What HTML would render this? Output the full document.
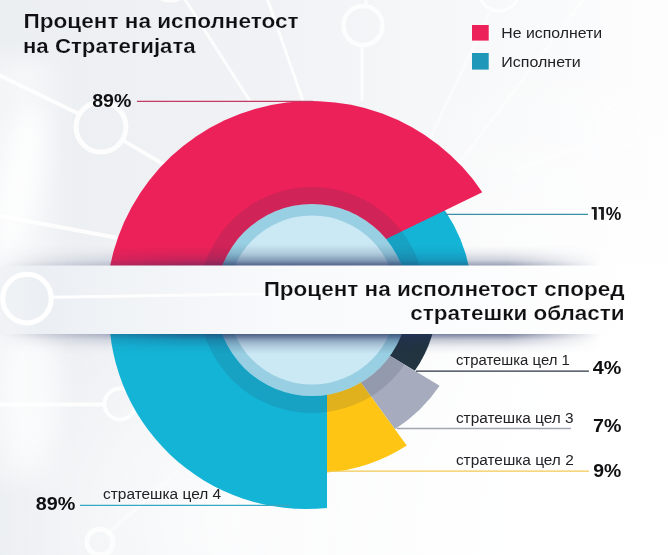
<!DOCTYPE html>
<html><head><meta charset="utf-8">
<style>
html,body{margin:0;padding:0;width:668px;height:555px;overflow:hidden;background:#f4f6f8;}
svg{display:block;}
text{font-family:"Liberation Sans",sans-serif;}
</style></head><body>
<svg width="668" height="555" viewBox="0 0 668 555">
<defs>
<linearGradient id="bgH" x1="0" y1="0" x2="1" y2="0">
<stop offset="0" stop-color="#eceff2"/>
<stop offset="0.4" stop-color="#f0f2f5"/>
<stop offset="0.75" stop-color="#f8f9fa"/>
<stop offset="1" stop-color="#fdfdfe"/>
</linearGradient>
<radialGradient id="bgR" cx="668" cy="555" r="520" gradientUnits="userSpaceOnUse">
<stop offset="0" stop-color="#ffffff" stop-opacity="1"/>
<stop offset="0.45" stop-color="#ffffff" stop-opacity="0.9"/>
<stop offset="1" stop-color="#ffffff" stop-opacity="0"/>
</radialGradient>
<radialGradient id="bgR2" cx="230" cy="520" r="240" gradientUnits="userSpaceOnUse">
<stop offset="0" stop-color="#ffffff" stop-opacity="0.75"/>
<stop offset="0.5" stop-color="#ffffff" stop-opacity="0.45"/>
<stop offset="1" stop-color="#ffffff" stop-opacity="0"/>
</radialGradient>
<linearGradient id="glowL" x1="0" y1="0" x2="1" y2="0">
<stop offset="0" stop-color="#ffffff" stop-opacity="0.2"/>
<stop offset="0.5" stop-color="#ffffff" stop-opacity="0.55"/>
<stop offset="1" stop-color="#ffffff" stop-opacity="0"/>
</linearGradient>
<filter id="blur8" x="-50%" y="-50%" width="200%" height="200%"><feGaussianBlur stdDeviation="10"/></filter>
<filter id="soft" x="-10%" y="-10%" width="120%" height="120%"><feGaussianBlur stdDeviation="0.5"/></filter>
<linearGradient id="bgV" x1="0" y1="0" x2="0" y2="1">
<stop offset="0" stop-color="#ffffff" stop-opacity="0"/>
<stop offset="0.6" stop-color="#ffffff" stop-opacity="0"/>
<stop offset="1" stop-color="#ffffff" stop-opacity="0.9"/>
</linearGradient>
<linearGradient id="shTop" x1="0" y1="0" x2="0" y2="1">
<stop offset="0" stop-color="#223060" stop-opacity="0"/>
<stop offset="0.35" stop-color="#223060" stop-opacity="0.07"/>
<stop offset="0.7" stop-color="#223060" stop-opacity="0.2"/>
<stop offset="1" stop-color="#223060" stop-opacity="0.47"/>
</linearGradient>
<linearGradient id="inTop" x1="0" y1="0" x2="0" y2="1">
<stop offset="0" stop-color="#223060" stop-opacity="0"/>
<stop offset="0.5" stop-color="#223060" stop-opacity="0.1"/>
<stop offset="0.8" stop-color="#223060" stop-opacity="0.28"/>
<stop offset="1" stop-color="#223060" stop-opacity="0.5"/>
</linearGradient>
<linearGradient id="inBot" x1="0" y1="0" x2="0" y2="1">
<stop offset="0" stop-color="#223060" stop-opacity="0.35"/>
<stop offset="0.4" stop-color="#223060" stop-opacity="0.12"/>
<stop offset="1" stop-color="#223060" stop-opacity="0"/>
</linearGradient>
<linearGradient id="shBot" x1="0" y1="0" x2="0" y2="1">
<stop offset="0" stop-color="#223060" stop-opacity="0.6"/>
<stop offset="0.3" stop-color="#223060" stop-opacity="0.25"/>
<stop offset="0.65" stop-color="#223060" stop-opacity="0.07"/>
<stop offset="1" stop-color="#223060" stop-opacity="0"/>
</linearGradient>
<linearGradient id="fadeH" gradientUnits="userSpaceOnUse" x1="0" y1="0" x2="668" y2="0">
<stop offset="0" stop-color="#fff" stop-opacity="0"/>
<stop offset="0.06" stop-color="#fff" stop-opacity="0.3"/>
<stop offset="0.17" stop-color="#fff" stop-opacity="0.6"/>
<stop offset="0.28" stop-color="#fff" stop-opacity="1"/>
<stop offset="0.76" stop-color="#fff" stop-opacity="1"/>
<stop offset="0.9" stop-color="#fff" stop-opacity="0"/>
</linearGradient>
<mask id="mH"><rect x="0" y="240" width="668" height="120" fill="url(#fadeH)"/></mask>
<linearGradient id="lineFade" gradientUnits="userSpaceOnUse" x1="51" y1="0" x2="420" y2="0">
<stop offset="0" stop-color="#fff" stop-opacity="1"/>
<stop offset="0.6" stop-color="#fff" stop-opacity="0.7"/>
<stop offset="1" stop-color="#fff" stop-opacity="0"/>
</linearGradient>
<linearGradient id="bmk" x1="0" y1="0" x2="1" y2="0">
<stop offset="0" stop-color="#fff" stop-opacity="0.3"/>
<stop offset="0.06" stop-color="#fff" stop-opacity="1"/>
<stop offset="1" stop-color="#fff" stop-opacity="1"/>
</linearGradient>
<mask id="bannerMask"><rect x="0" y="260" width="668" height="80" fill="url(#bmk)"/></mask>
<linearGradient id="banner" x1="0" y1="0" x2="1" y2="0">
<stop offset="0" stop-color="#e8edf2"/>
<stop offset="0.2" stop-color="#f1f4f7"/>
<stop offset="0.45" stop-color="#f9fafc"/>
<stop offset="1" stop-color="#ffffff"/>
</linearGradient>
</defs>
<rect width="668" height="555" fill="url(#bgH)"/>
<rect width="668" height="555" fill="url(#bgR)"/>
<rect width="668" height="555" fill="url(#bgR2)"/>
<rect x="-20" y="60" width="90" height="420" fill="url(#glowL)" filter="url(#blur8)"/>
<ellipse cx="18" cy="185" rx="22" ry="80" fill="#ffffff" opacity="0.75" filter="url(#blur8)" transform="rotate(12 18 185)"/>
<ellipse cx="30" cy="390" rx="30" ry="70" fill="#ffffff" opacity="0.5" filter="url(#blur8)"/>
<!-- network decorations -->
<g stroke="#ffffff" fill="none" filter="url(#soft)">
<g stroke-width="4" opacity="0.85">
<circle cx="101" cy="127" r="25" stroke-width="5"/>
<line x1="-2" y1="74.5" x2="79" y2="114"/>
<line x1="123" y1="140.4" x2="175" y2="171"/>
<line x1="-2" y1="215.5" x2="118" y2="238"/>
<circle cx="27" cy="298.6" r="24.3"/>
<line x1="-2" y1="404.5" x2="104.5" y2="404.5"/>
<circle cx="120" cy="404" r="15.5"/>
<circle cx="100" cy="542" r="13" stroke-width="5" opacity="0.9"/>
<line x1="107" y1="534.6" x2="178" y2="471" opacity="0.5"/>
</g>
<g stroke-width="3" opacity="0.8">
<line x1="184" y1="-2" x2="250" y2="101"/>
<line x1="267" y1="-2" x2="303" y2="101"/>
<circle cx="170" cy="-20" r="21"/>
<circle cx="363" cy="25.5" r="19.5" stroke-width="4.5"/>
<line x1="362" y1="45" x2="362" y2="101"/>
<line x1="366" y1="-2" x2="366" y2="5"/>
<circle cx="499" cy="-9" r="20"/>
</g>
<g stroke-width="3" opacity="0.45">
<line x1="490" y1="12" x2="414" y2="172"/>
<line x1="585" y1="-2" x2="437" y2="192"/>
<circle cx="620" cy="126" r="21"/>
<line x1="598" y1="140" x2="515" y2="170"/>
</g>
</g>
<!-- chart -->
<path d="M313,300 L472.5,300 A159.5,159.5 0 0 0 313,140.5 Z" fill="#14b4d6"/>
<path d="M106.10,300 A205.5,205.5 0 0 1 482.31,192.25 L260.72,300 Z" fill="#ec2159"/>
<path d="M109.37,300 A197,197 0 0 0 327,507.88 L327,300 Z" fill="#14b4d6"/>
<path d="M313,300 L437,300 A124,124 0 0 1 414.78,370.84 L297.43,300 Z" fill="#21343f"/>
<path d="M297.43,300 L439.64,385.85 A153,153 0 0 1 394.96,429.19 L300.65,300 Z" fill="#a6acbd"/>
<path d="M327,300 L327,472.43 A173,173 0 0 0 406.78,445.38 L300.65,300 Z" fill="#fec514"/>
<circle cx="312" cy="300" r="104.5" fill="none" stroke="#2c3552" stroke-opacity="0.14" stroke-width="17"/>
<circle cx="312" cy="300" r="96" fill="#99cfe2"/>
<circle cx="312" cy="300" r="84.5" fill="#cbe9f5"/>
<clipPath id="ringClip"><circle cx="312" cy="300" r="96"/></clipPath>
<g clip-path="url(#ringClip)">
<rect x="200" y="243" width="230" height="23" fill="url(#inTop)"/>
<rect x="200" y="334" width="230" height="20" fill="url(#inBot)"/>
</g>
<!-- banner shadows -->
<g mask="url(#mH)">
<rect x="0" y="245.5" width="668" height="20.5" fill="url(#shTop)"/>
<rect x="0" y="334" width="668" height="20" fill="url(#shBot)"/>
</g>
<rect x="0" y="265.5" width="668" height="68.5" fill="url(#banner)" mask="url(#bannerMask)"/>
<g stroke="#ffffff" fill="none" filter="url(#soft)">
<circle cx="27" cy="298.6" r="24.3" stroke-width="5"/>
<line x1="51" y1="297.3" x2="420" y2="291.5" stroke-width="3" stroke="url(#lineFade)"/>
</g>
<!-- leader lines -->
<g stroke-width="1.3">
<line x1="137" y1="101.4" x2="313" y2="101.4" stroke="#c43a62"/>
<line x1="445" y1="214.4" x2="588" y2="214.4" stroke="#3a8ea6"/>
<line x1="416" y1="371.2" x2="588.9" y2="371.2" stroke="#28343f"/>
<line x1="397" y1="428.5" x2="570.9" y2="428.5" stroke="#a2a6b3"/>
<line x1="327" y1="471.2" x2="588.9" y2="471.2" stroke="#f2ca55"/>
<line x1="79.9" y1="505.3" x2="290" y2="505.3" stroke="#36a8c4"/>
</g>
<!-- text -->
<text transform="translate(23.53,27.80) scale(1.0757,1)" font-size="21" font-weight="bold" stroke="#eef1f4" stroke-width="0.2" fill="#101012">Процент на исполнетост</text>
<text transform="translate(22.94,52.50) scale(1.0586,1)" font-size="21" font-weight="bold" stroke="#eef1f4" stroke-width="0.2" fill="#101012">на Стратегијата</text>
<text transform="translate(263.64,295.70) scale(1.0727,1)" font-size="21" font-weight="bold" stroke="#fafbfc" stroke-width="0.2" fill="#101012">Процент на исполнетост според</text>
<text transform="translate(410.20,319.70) scale(1.0705,1)" font-size="21" font-weight="bold" stroke="#fafbfc" stroke-width="0.2" fill="#101012">стратешки области</text>
<text transform="translate(501.33,37.70) scale(1.0919,1)" font-size="14.5" fill="#222226">Не исполнети</text>
<text transform="translate(501.32,66.90) scale(1.1032,1)" font-size="14.5" fill="#222226">Исполнети</text>
<text transform="translate(455.93,364.60) scale(1.0270,1)" font-size="14.5" fill="#222226">стратешка цел 1</text>
<text transform="translate(455.91,422.80) scale(1.0619,1)" font-size="14.5" fill="#222226">стратешка цел 3</text>
<text transform="translate(455.91,464.90) scale(1.0626,1)" font-size="14.5" fill="#222226">стратешка цел 2</text>
<text transform="translate(103.00,498.70) scale(1.0661,1)" font-size="14.5" fill="#222226">стратешка цел 4</text>
<text transform="translate(92.21,106.70) scale(1.0854,1)" font-size="18" font-weight="bold" fill="#101012">89%</text>
<text transform="translate(605.76,219.80) scale(0.9722,1)" font-size="18" font-weight="bold" fill="#101012">%</text>
<text transform="translate(592.80,373.60) scale(1.0992,1)" font-size="18" font-weight="bold" fill="#101012">4%</text>
<text transform="translate(593.12,431.80) scale(1.0869,1)" font-size="18" font-weight="bold" fill="#101012">7%</text>
<text transform="translate(593.32,476.70) scale(1.0790,1)" font-size="18" font-weight="bold" fill="#101012">9%</text>
<text transform="translate(35.71,509.50) scale(1.0997,1)" font-size="18" font-weight="bold" fill="#101012">89%</text>
<path d="M591.6,207.1 H596.75 V219.7 H594.0 V209.3 H591.6 Z M598.5,207.1 H603.9 V219.7 H601.1 V209.3 H598.5 Z" fill="#1b1b1d"/>
<rect x="472" y="25" width="16.7" height="15.6" fill="#ec2159"/>
<rect x="472" y="53" width="16.7" height="16.6" fill="#1e97b8"/>
</svg>
</body></html>
